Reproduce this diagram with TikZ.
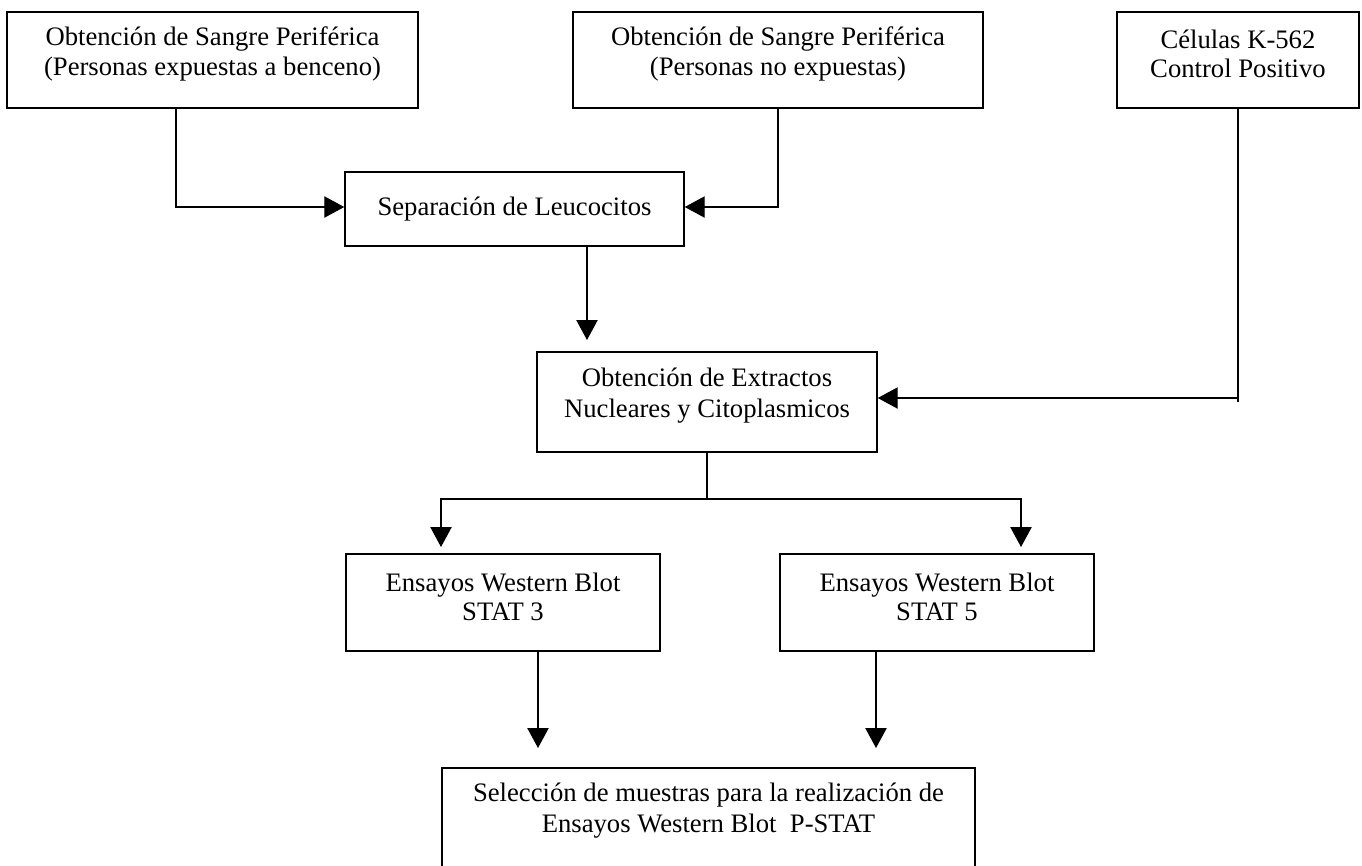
\documentclass[tikz,border=0pt]{standalone}
\usepackage{fontspec}
\setmainfont{Liberation Serif}
\usetikzlibrary{arrows.meta,calc}
\begin{document}
\begin{tikzpicture}[x=0.75pt,y=-0.75pt,
  box/.style={draw, line width=1.1pt, inner sep=0pt, minimum height=72pt},
  txt/.style={font=\fontsize{20}{22}\selectfont, align=center, inner sep=0pt},
  txtb/.style={font=\fontsize{20}{23.5}\selectfont, align=center, inner sep=0pt},
  conn/.style={line width=0.9pt},
  arr/.style={conn, -{Triangle[length=15pt,width=16pt]}}]
\useasboundingbox (0,0) rectangle (1362,865);
% boxes
\node[box, minimum width=308.25pt] (b1) at (212.5,60) {};
\node[box, minimum width=307.5pt] (b2) at (778,60) {};
\node[box, minimum width=181.5pt] (b3) at (1238,60) {};
\node[box, minimum width=254.25pt, minimum height=55.5pt] (sep) at (514.5,209) {};
\node[box, minimum width=255pt, minimum height=75pt] (b5) at (707,402) {};
\node[box, minimum width=235.5pt, minimum height=72.75pt] (st3) at (503,602.5) {};
\node[box, minimum width=235.5pt, minimum height=72.75pt] (st5) at (937,602.5) {};
\node[box, minimum width=399.75pt, minimum height=76.5pt] (bot) at (708.5,819) {};
% texts
\node[txt] (b1t) at (212.5,54) {Obtención de Sangre Periférica\\(Personas expuestas a benceno)};
\node[txt] (b2t) at (778,54) {Obtención de Sangre Periférica\\(Personas no expuestas)};
\node[txt] (b3t) at (1238,54) {Células K-562\\Control Positivo};
\node[txt, anchor=base] (sept) at (514.5,215) {Separación de Leucocitos};
\node[txtb] (b5t) at (707,395.5) {Obtención de Extractos\\Nucleares y Citoplasmicos};
\node[txt] (st3t) at (503,597) {Ensayos Western Blot\\STAT 3};
\node[txt] (st5t) at (937,597) {Ensayos Western Blot\\STAT 5};
\node[txtb] (bott) at (708.5,810.5) {Selección de muestras para la realización de\\Ensayos Western Blot~~P-STAT};
% connectors
\draw[arr] ($(b1.south)+(-36.5,0)$) |- ($(sep.west)+(0,-2)$);
\draw[arr] (b2.south) |- ($(sep.east)+(0,-2)$);
\coordinate (t3) at (587,340);
\draw[arr] ($(sep.south)+(72.5,0)$) -- (t3);
\draw[conn] (b3.south) -- ($(b3.south)+(0,293)$);
\draw[arr] ($(b5.east -| b3.south)+(0,-4)$) -- ($(b5.east)+(0,-4)$);
\coordinate (j) at (707,499);
\draw[conn] (b5.south) -- (j);
\coordinate (t5a) at (441,547);
\coordinate (t5b) at (1021,547);
\draw[arr] (j) -| (t5a);
\draw[arr] (j) -| (t5b);
\coordinate (t6a) at (538,748);
\coordinate (t6b) at (876,748);
\draw[arr] ($(st3.south)+(35,0)$) -- (t6a);
\draw[arr] ($(st5.south)+(-61,0)$) -- (t6b);
\end{tikzpicture}
\end{document}
